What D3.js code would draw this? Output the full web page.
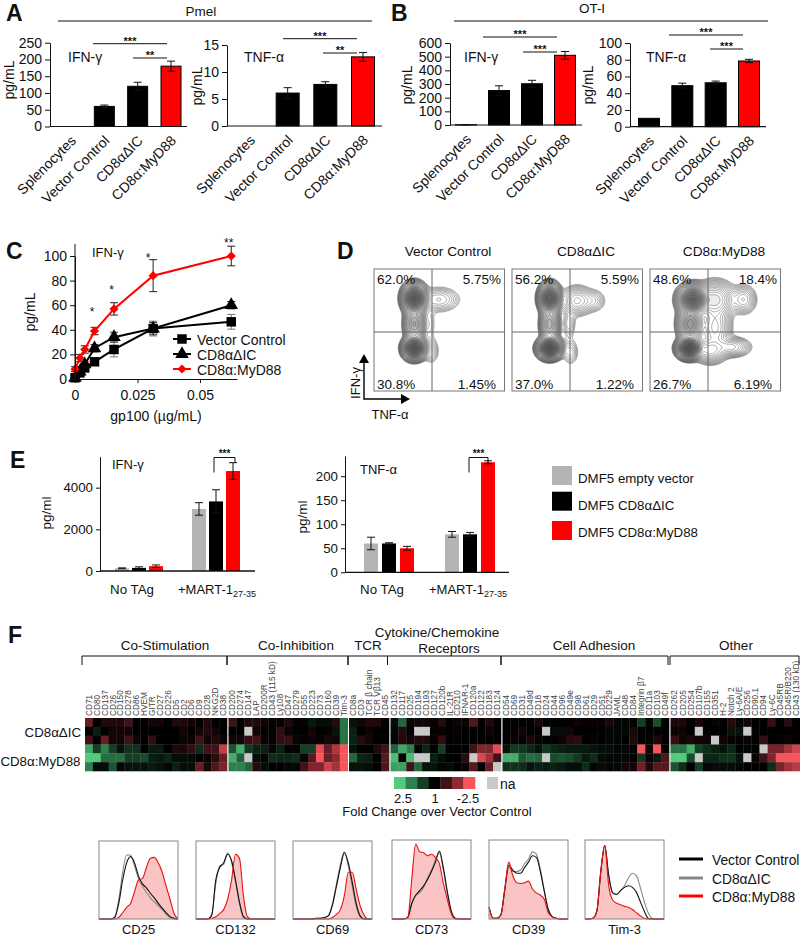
<!DOCTYPE html>
<html>
<head>
<meta charset="utf-8">
<script src="https://cdn.jsdelivr.net/npm/d3@7"></script>
<style>
  html, body { margin: 0; padding: 0; background: #fff; }
  svg { display: block; font-family: "Liberation Sans", Arial, sans-serif; fill: #111; }
</style>
</head>
<body>
<div id="chart"></div>
<script>
// panels A + B
var barCategories = ['Splenocytes', 'Vector Control', 'CD8αΔIC', 'CD8α:MyD88'];
var pmelIfn = [0, 60, 120, 180];
var pmelIfnErr = [0, 4, 12, 15];
var pmelTnf = [0, 6.1, 7.7, 12.8];
var pmelTnfErr = [0, 1, 0.5, 0.8];
var otiIfn = [2, 252, 302, 510];
var otiIfnErr = [1, 35, 25, 28];
var otiTnf = [10, 49, 52.5, 78.5];
var otiTnfErr = [0.3, 3, 2, 2];

// panel C
var doses = [0, 0.00195, 0.0039, 0.0078, 0.0156, 0.03125, 0.0625];
var doseVector = [1, 5, 9, 14, 24, 41, 46.5];
var doseVectorErr = [1, 1, 2, 2, 6, 6, 6];
var doseDelta = [1, 6, 12, 25, 34, 41, 60];
var doseDeltaErr = [1, 1, 2, 3, 4, 5, 3];
var doseMyd = [8, 17, 24, 39, 57, 84, 100];
var doseMydErr = [2, 3, 3, 3, 5, 13, 8];
var doseStars = [[0.0068, 56, '*'], [0.0146, 74, '*'], [0.0292, 100, '*'], [0.0615, 112, '**']];

// panel D, density peaks as [TNF, IFN, spread TNF, spread IFN, weight]
var flowTitles = ['Vector Control', 'CD8αΔIC', 'CD8α:MyD88'];
var flowPercents = [
  ['62.0%', '5.75%', '30.8%', '1.45%'],
  ['56.2%', '5.59%', '37.0%', '1.22%'],
  ['48.6%', '18.4%', '26.7%', '6.19%']
];
var peaksVector = [
  [0.31, 0.76, 0.038, 0.05, 1], [0.31, 0.35, 0.036, 0.038, 1.2], [0.31, 0.55, 0.034, 0.07, 0.22],
  [0.5, 0.75, 0.085, 0.055, 0.02], [0.43, 0.55, 0.03, 0.09, 0.006], [0.44, 0.33, 0.035, 0.06, 0.012]
];
var peaksDelta = [
  [0.29, 0.76, 0.034, 0.05, 0.9], [0.29, 0.35, 0.038, 0.036, 1.3], [0.29, 0.55, 0.032, 0.07, 0.2],
  [0.5, 0.74, 0.06, 0.06, 0.04], [0.63, 0.74, 0.05, 0.05, 0.014], [0.45, 0.32, 0.035, 0.06, 0.012], [0.44, 0.55, 0.03, 0.07, 0.01]
];
var peaksMyd = [
  [0.33, 0.75, 0.048, 0.05, 0.8], [0.3, 0.35, 0.038, 0.035, 1.3], [0.31, 0.55, 0.042, 0.07, 0.3],
  [0.5, 0.75, 0.07, 0.07, 0.1], [0.72, 0.75, 0.05, 0.06, 0.03], [0.63, 0.36, 0.07, 0.04, 0.04],
  [0.5, 0.52, 0.06, 0.1, 0.05], [0.46, 0.33, 0.06, 0.05, 0.06]
];

// panel E
var dmfGroups = ['No TAg', '+MART-1'];
var dmfSeries = ['DMF5 empty vector', 'DMF5 CD8αΔIC', 'DMF5 CD8α:MyD88'];
var dmfIfn = [[130, 150, 230], [2980, 3340, 4800]];
var dmfIfnErr = [[20, 50, 60], [300, 560, 400]];
var dmfTnf = [[60, 60, 50], [79, 79, 229]];
var dmfTnfErr = [[13, 1.5, 4], [6, 4, 3]];

// panel F, fold change level per cell, positive is green, null is na
var heatRows = [0, 1, 2, 3, 4, 5];
var heatRowNames = ['CD8αΔIC', 'CD8α:MyD88'];
var heatLabelsCoStim = ['CD71', 'CD80', 'CD137', 'CD26', 'CD150', 'CD278', 'CD86', 'HVEM', 'GITR', 'CD27', 'CD226', 'CD5', 'CD2', 'CD6', 'CD9', 'CD28', 'NKG2D', 'CD38'];
var heatCoStim = [
  [-1.5, 0, -0.5, -0.5, -0.5, -1, 0, 0, -0.3, -0.3, 0, -0.5, -0.5, -0.3, 0, -0.5, 0, 0],
  [0, 0.5, 0, -0.3, -0.3, -0.3, 0, 0, 0, 0, 0, 0, -0.3, 0, -0.3, -0.5, -0.3, 0],
  [-1, 0, -1.5, -0.3, -0.3, -1, -0.3, 0, -0.8, 0, 0, 0, -0.2, -0.2, -1, -0.3, -0.5, -0.2],
  [2.5, 1, 2, 1, 0.3, 0.8, 0.8, 0, 0.4, 0.4, 0, -0.5, -0.4, -0.8, 0.7, -1, -1, -2.5],
  [3, 3, 1.7, 1.7, 1.7, 1, 1, 1.2, 0.5, 0.4, 0.6, 0.2, 0.2, 0.2, 0, -0.2, -0.7, -1.5],
  [2, 0.2, 0.2, 1.3, 0.1, 0.3, 0.3, 0.3, 0.4, 0.3, 0.1, 0.5, 0.2, 0.2, -1.5, -0.4, -1.2, -1.7]
];
var heatLabelsCoInh = ['CD200', 'CD274', 'CD147', 'LAP', 'CD200R', 'CD43 (115 kD)', 'Ly108', 'CD47', 'CD279', 'CD55', 'CD223', 'CD73', 'CD160', 'CD39', 'Tim-3'];
var heatCoInh = [
  [-1, 0, -0.5, -0.5, -0.3, -0.1, -0.1, -0.5, -0.1, -0.1, 0.4, 0.2, 0.2, -0.6, 1.8],
  [0, 0, null, -0.3, -0.1, -0.1, -0.8, -0.2, 0, 0, -0.3, 0, -0.1, 0.3, 1.8],
  [-0.3, -0.3, -0.8, -1, -0.2, -0.1, -0.8, -0.9, -0.2, -0.1, -0.2, -0.1, -0.4, -0.3, 1.8],
  [1.3, 2.6, 0.9, 0.5, 0.5, 0.1, 0.5, 0, 0, 1, 1, -2.8, -1.5, -2.3, -3],
  [2.6, 1.5, null, 0.2, 0.1, 0.7, 0.6, 0.6, 0.7, 0.1, -1.3, -3, -1.5, -2, -3],
  [2, 2, 1.6, -0.6, 0.2, 0, 0, 0.1, 0.1, -1, -1.8, -1.8, -2.6, -2.2, -3]
];
var heatLabelsTcr = ['CD8a', 'CD3', 'TCR β chain', 'TCR Vβ13', 'CD45'];
var heatTcr = [
  [0.3, -0.3, -0.5, -0.5, 0],
  [0.5, 0, -0.2, 0, 0],
  [0.5, -0.6, -0.3, 0, 0],
  [0.3, 0, 0, -0.5, -1],
  [1.6, 0.6, 0.5, 0, -1.3],
  [0.3, 0.3, 0.2, 0, -1.2]
];
var heatLabelsCyto = ['CD132', 'CD117', 'CD25', 'CD194', 'CD193', 'CD127', 'CD120b', 'IL-21R', 'CD210', 'IFNAR-1', 'CD120a', 'CD122', 'CD183', 'CD124'];
var heatCyto = [
  [0.2, 1.6, 0.1, -0.3, -0.3, -0.1, -0.6, 0, -0.2, -0.2, -1.2, 0, -0.5, 0],
  [0.1, -0.6, 0, null, null, -0.1, -0.1, 0, 0, 0, 0, 0, -0.2, 0],
  [0.1, -0.5, -0.3, -0.5, -0.5, -0.1, -0.8, 0, 0, 0, 0, 0, 0, 0],
  [1.5, 2.5, 2, 0.1, 0.6, 0, 1, 0, 0, 0, -1, -1.8, -1.8, -2.8],
  [2.8, 0, 2.8, null, null, 0.5, 0.2, 0, 0, -0.7, null, -2.7, -2.2, -1],
  [2.4, 2.4, -1, 1.6, 0.3, 0.3, 0.1, 0.2, 0, -0.2, -1.3, 0, -1.5, null]
];
var heatLabelsAdh = ['CD54', 'CD69', 'CD31', 'CD49d', 'CD18', 'CD24', 'CD44', 'CD96', 'CD49e', 'CD98', 'CD61', 'CD29', 'CD51', 'CD229', 'JAML', 'CD48', 'CD84', 'Integrin β7', 'CD11a', 'CD103', 'CD49f'];
var heatAdh = [
  [0, 0, 0, 0, -0.4, 0, 0, 0, 0, -0.2, -0.1, -0.1, -0.1, -0.4, 0.1, 0.1, -0.1, 1, -0.1, 1.2, 0],
  [0, 0, -0.3, 0, 0, null, 0.2, 0.2, -0.3, 0, 0, 0, 0, 0.1, 0.1, 0.1, -0.4, 0, 0, 0, 0],
  [0, -0.2, -0.1, -0.4, -0.2, 0, 0, -0.2, -0.6, -0.7, 0, -0.1, 0, 0.1, 0.1, 0, -0.5, 0, 0, -0.4, 0],
  [0.3, 0.9, 0.9, 0.6, 0.3, 0.9, 0.6, 0.5, 0.4, 0.4, 0.4, 0.3, 0.2, 0.2, 0.1, 0.1, 0, -3, -0.3, -3, 0],
  [2.6, 2.6, 1.4, 1.7, 1.6, null, 1.2, 1.3, 1.2, 0.9, 0.4, 0.7, 0.2, 0.1, 0.1, 0.1, 0, 0.9, -0.2, 0.4, -1.2],
  [0.8, 0.8, 0.7, 0.3, 0.5, 0.4, 0.5, 0.4, 0.2, 0.2, 0.7, 0.1, 0.2, 0.1, 0.1, -0.3, -0.3, -1.6, -0.5, -1.3, -1.3]
];
var heatLabelsOther = ['CD262', 'CD205', 'CD254', 'CD107b', 'CD155', 'CD351', 'H-2', 'Notch 2', 'Ly-6A/E', 'CD256', 'CD90.1', 'CD94', 'Ly-6C', 'CD45RB', 'CD45R/B220', 'CD43 (130 kD)'];
var heatOther = [
  [-0.4, -0.4, 0, -0.4, 0, 0.1, 0, -0.6, 0.1, -0.3, 0, 0, -0.9, 0, -0.7, 0],
  [-0.2, -0.2, 0, null, -0.1, 0, 0, 0.3, 0.3, null, -0.1, 0, 0, 0, 0, 0],
  [-0.8, -0.2, -0.4, -0.3, -0.2, null, -0.3, -0.1, 0, -0.2, 0, -0.8, 0, -0.1, -0.2, 0],
  [1.8, 1.8, 2.6, 1, 0.7, 0.5, 0.3, 0.6, 0, 0.1, 0, null, -1.7, -1.7, -2.2, -2.6],
  [3, 3, 1.2, null, 0.6, 0.6, 0.8, 0.8, 0.3, null, -0.2, -1, -1.8, -3, -3, -3],
  [1.3, 0.7, 0, 1, 0.1, 0.2, 0.2, 0.2, 0.1, 0, 0, 0, 0.7, -1.7, -2.2, -2.4]
];
var heatLegendLevels = [3, 2, 1, 0, -1, -2, -3];
var heatGroupNames = ['Co-Stimulation', 'Co-Inhibition', 'TCR', 'Cytokine/Chemokine', 'Receptors', 'Cell Adhesion', 'Other'];

// histograms, height as a share of the frame at evenly spaced channels
var histNames = ['CD25', 'CD132', 'CD69', 'CD73', 'CD39', 'Tim-3'];
var histVector = [
  [0, 0, 0, 0, 0.02, 0.2, 0.5, 0.72, 0.8, 0.72, 0.55, 0.45, 0.4, 0.33, 0.27, 0.2, 0.14, 0.08, 0.03, 0.01, 0],
  [0, 0, 0, 0, 0.05, 0.5, 0.66, 0.72, 0.83, 0.75, 0.5, 0.22, 0.03, 0, 0, 0, 0, 0, 0, 0, 0],
  [0, 0, 0, 0, 0, 0, 0.01, 0.01, 0.02, 0.04, 0.18, 0.42, 0.66, 0.85, 0.72, 0.47, 0.2, 0.04, 0, 0, 0],
  [0, 0, 0, 0, 0.02, 0.2, 0.3, 0.36, 0.42, 0.5, 0.6, 0.72, 0.86, 0.65, 0.35, 0.1, 0.01, 0, 0, 0, 0],
  [0.15, 0.01, 0.01, 0.05, 0.38, 0.68, 0.62, 0.58, 0.58, 0.65, 0.72, 0.8, 0.78, 0.6, 0.35, 0.12, 0.03, 0.01, 0, 0, 0],
  [0, 0, 0.01, 0.1, 0.6, 0.93, 0.55, 0.33, 0.31, 0.36, 0.4, 0.42, 0.4, 0.34, 0.22, 0.1, 0.01, 0, 0, 0, 0]
];
var histDelta = [
  [0, 0, 0, 0, 0.03, 0.25, 0.6, 0.82, 0.82, 0.68, 0.52, 0.42, 0.34, 0.27, 0.22, 0.17, 0.12, 0.06, 0.02, 0, 0],
  [0, 0, 0, 0, 0.06, 0.45, 0.68, 0.7, 0.85, 0.73, 0.48, 0.2, 0.03, 0, 0, 0, 0, 0, 0, 0, 0],
  [0, 0, 0, 0, 0, 0, 0.01, 0.01, 0.02, 0.05, 0.2, 0.45, 0.7, 0.86, 0.68, 0.42, 0.16, 0.03, 0, 0, 0],
  [0, 0, 0, 0, 0.02, 0.18, 0.3, 0.33, 0.4, 0.52, 0.62, 0.75, 0.84, 0.62, 0.32, 0.1, 0.01, 0, 0, 0, 0],
  [0.15, 0.01, 0.01, 0.05, 0.36, 0.66, 0.6, 0.6, 0.62, 0.7, 0.76, 0.85, 0.82, 0.63, 0.36, 0.12, 0.03, 0.01, 0, 0, 0],
  [0, 0, 0.01, 0.1, 0.6, 0.93, 0.55, 0.33, 0.31, 0.36, 0.42, 0.52, 0.58, 0.55, 0.4, 0.22, 0.08, 0.01, 0, 0, 0]
];
var histMyd = [
  [0, 0, 0, 0, 0, 0.02, 0.08, 0.15, 0.2, 0.35, 0.5, 0.52, 0.66, 0.78, 0.79, 0.72, 0.6, 0.42, 0.25, 0.07, 0],
  [0, 0, 0, 0, 0.01, 0.03, 0.07, 0.12, 0.25, 0.5, 0.83, 0.78, 0.3, 0.03, 0, 0, 0, 0, 0, 0, 0],
  [0, 0, 0, 0, 0, 0, 0, 0, 0, 0, 0.02, 0.06, 0.12, 0.3, 0.6, 0.6, 0.38, 0.17, 0.05, 0, 0],
  [0, 0, 0, 0, 0.02, 0.5, 0.95, 0.85, 0.84, 0.8, 0.82, 0.78, 0.7, 0.45, 0.25, 0.07, 0, 0, 0, 0, 0],
  [0.15, 0.01, 0.01, 0.05, 0.38, 0.72, 0.55, 0.46, 0.45, 0.46, 0.48, 0.38, 0.33, 0.3, 0.25, 0.08, 0.03, 0.01, 0, 0, 0],
  [0, 0, 0.01, 0.1, 0.6, 0.93, 0.42, 0.24, 0.2, 0.18, 0.16, 0.15, 0.12, 0.08, 0.04, 0.01, 0, 0, 0, 0, 0]
];

var RED = '#fe0000';
var svg = d3.select('#chart').append('svg').attr('width', 800).attr('height', 937);

var label = function (x, y, s, size, anchor) {
  return svg.append('text').attr('x', x).attr('y', y).attr('dy', '0.35em')
      .attr('font-size', size || 13).attr('text-anchor', anchor || 'middle').text(s);
};
var vLabel = function (x, y, s, size) {
  return svg.append('text').attr('transform', 'translate(' + x + ',' + y + ') rotate(-90)')
      .attr('dy', '0.35em').attr('font-size', size || 14)
      .attr('text-anchor', 'middle').text(s);
};
var hline = function (x1, x2, y, w) {
  return svg.append('line').attr('x1', x1).attr('x2', x2).attr('y1', y).attr('y2', y)
      .attr('stroke', '#111').attr('stroke-width', w || 1);
};
var whisker = function (g, cx, top, bottom, color) {
  var p = d3.path();
  p.moveTo(cx, top); p.lineTo(cx, bottom);
  p.moveTo(cx - 4, top); p.lineTo(cx + 4, top);
  p.moveTo(cx - 4, bottom); p.lineTo(cx + 4, bottom);
  g.append('path').attr('d', p.toString()).attr('fill', 'none').attr('stroke', color || '#111').attr('stroke-width', 1);
};

// panel letters
[['A', 6, 21], ['B', 391, 21], ['C', 6, 259], ['D', 337, 259], ['E', 10, 468], ['F', 8, 643]].forEach(function (d) {
  svg.append('text').attr('x', d[1]).attr('y', d[2]).attr('font-size', 23).attr('font-weight', 'bold').text(d[0]);
});

label(201, 11, 'Pmel', 13.5);
hline(58, 372, 21, 1.2);
label(592, 8, 'OT-I', 13.5);
hline(454, 768, 21, 1.2);

var barPanel = function (c) {
  var x = d3.scalePoint().domain(barCategories).range(c.centers);
  var y = d3.scaleLinear().domain(c.domain).range(c.yRange);
  var g = svg.append('g');
  var rows = barCategories.map(function (name, i) {
    return { name: name, v: c.values[i], e: c.errs[i], i: i };
  });

  g.selectAll('.bar').data(rows).enter().append('rect').attr('class', 'bar')
      .attr('x', function (d) { return x(d.name) - c.barW / 2; })
      .attr('width', c.barW)
      .attr('y', function (d) { return y(d.v); })
      .attr('height', function (d) { return y(0) - y(d.v); })
      .attr('fill', function (d) { return d.i === 3 ? RED : '#000'; })
      .attr('stroke', '#000').attr('stroke-width', 1);

  rows.filter(function (d) { return d.e >= 0.5; }).forEach(function (d) {
    whisker(g, x(d.name), y(d.v + d.e), y(d.v - d.e));
  });

  var yEl = g.append('g').attr('transform', 'translate(' + c.left + ',0)')
      .call(d3.axisLeft(y).tickValues(c.ticks).tickSize(5).tickSizeOuter(0));
  yEl.selectAll('text').attr('font-size', 14).attr('font-family', 'inherit').attr('fill', '#111');
  yEl.selectAll('line,path').attr('stroke', '#111');

  hline(c.left, c.right, c.yRange[0], 1.2);

  barCategories.forEach(function (name) {
    svg.append('text')
        .attr('transform', 'translate(' + (x(name) + 6) + ',' + (c.yRange[0] + 15) + ') rotate(-45)')
        .attr('text-anchor', 'end').attr('font-size', 14).text(name);
  });

  label(c.titleX, c.titleY, c.title, 14, 'start');
  vLabel(c.labelX, c.labelY, 'pg/mL', 14);

  c.sig.forEach(function (s) {
    hline(s[0], s[1], s[2], 1);
    label((s[0] + s[1]) / 2, s[2] - 3, s[3], 11).attr('font-weight', 'bold');
  });
};

barPanel({ values: pmelIfn, errs: pmelIfnErr, domain: [0, 250], ticks: [0, 50, 100, 150, 200, 250],
  centers: [71, 171], yRange: [126.5, 42.7], left: 50, right: 187, barW: 20,
  title: 'IFN-γ', titleX: 68, titleY: 57, labelX: 9, labelY: 80,
  sig: [[93, 167, 43.7, '***'], [133, 167, 58, '**']] });
barPanel({ values: pmelTnf, errs: pmelTnfErr, domain: [0, 15], ticks: [0, 5, 10, 15],
  centers: [250, 363], yRange: [126, 45], left: 227, right: 382, barW: 23,
  title: 'TNF-α', titleX: 244, titleY: 57, labelX: 197, labelY: 86,
  sig: [[283, 357, 38.7, '***'], [323, 357, 53, '**']] });
barPanel({ values: otiIfn, errs: otiIfnErr, domain: [0, 600], ticks: [0, 100, 200, 300, 400, 500, 600],
  centers: [466, 565], yRange: [125, 43], left: 450, right: 582, barW: 21,
  title: 'IFN-γ', titleX: 464, titleY: 57, labelX: 407, labelY: 85,
  sig: [[483, 557, 37, '***'], [523, 557, 52, '***']] });
barPanel({ values: otiTnf, errs: otiTnfErr, domain: [0, 100], ticks: [0, 20, 40, 60, 80, 100],
  centers: [649, 749], yRange: [126.7, 43], left: 630, right: 766, barW: 21,
  title: 'TNF-α', titleX: 646, titleY: 57, labelX: 588, labelY: 85,
  sig: [[669, 743, 35, '***'], [710, 743, 49, '***']] });

// panel C
(function () {
  var x = d3.scaleLinear().domain([0, 0.0648]).range([75, 237]);
  var y = d3.scaleLinear().domain([0, 100]).range([379, 256]);
  var series = [
    { v: doseVector, e: doseVectorErr, color: '#000', whisker: '#777', sym: d3.symbolSquare, size: 90, rot: 0 },
    { v: doseDelta, e: doseDeltaErr, color: '#000', whisker: '#333', sym: d3.symbolTriangle, size: 80, rot: 0 },
    { v: doseMyd, e: doseMydErr, color: RED, whisker: '#222', sym: d3.symbolSquare, size: 42, rot: 45 }
  ];
  var g = svg.append('g');
  var line = d3.line().x(function (d) { return x(d.x); }).y(function (d) { return y(d.y); });

  series.forEach(function (s) {
    var pts = doses.map(function (dose, i) { return { x: dose, y: s.v[i], e: s.e[i] }; });
    pts.forEach(function (p) {
      whisker(g, x(p.x), y(p.y + p.e), y(p.y - p.e), s.whisker);
    });
    g.append('path').datum(pts).attr('d', line).attr('fill', 'none').attr('stroke', s.color).attr('stroke-width', 2);
    g.selectAll(null).data(pts).enter().append('path')
        .attr('d', d3.symbol().type(s.sym).size(s.size))
        .attr('transform', function (d) { return 'translate(' + x(d.x) + ',' + y(d.y) + ') rotate(' + s.rot + ')'; })
        .attr('fill', s.color);
  });

  var yEl = g.append('g').attr('transform', 'translate(75,0)')
      .call(d3.axisLeft(y).tickValues([0, 20, 40, 60, 80, 100]).tickSize(5).tickSizeOuter(0));
  yEl.selectAll('text').attr('font-size', 14).attr('font-family', 'inherit').attr('fill', '#111');
  yEl.selectAll('line,path').attr('stroke', '#111');
  svg.append('line').attr('x1', 75).attr('x2', 75).attr('y1', 244).attr('y2', 379).attr('stroke', '#111');

  var xEl = g.append('g').attr('transform', 'translate(0,379)')
      .call(d3.axisBottom(x).tickValues([0, 0.025, 0.05]).tickFormat(function (d) { return d === 0 ? '0' : String(d); }).tickSize(4).tickSizeOuter(0));
  xEl.selectAll('text').attr('font-size', 14).attr('font-family', 'inherit').attr('fill', '#111').attr('dy', '1em');
  xEl.selectAll('line,path').attr('stroke', '#111');

  doseStars.forEach(function (d) {
    label(x(d[0]), y(d[1]) + 2, d[2], 12);
  });
  label(92, 252, 'IFN-γ', 13, 'start');
  vLabel(30, 312, 'pg/mL', 14);
  label(156, 416, 'gp100 (µg/mL)', 14);

  var names = ['Vector Control', 'CD8αΔIC', 'CD8α:MyD88'];
  names.forEach(function (name, i) {
    var ly = 339 + i * 15;
    var s = series[i];
    svg.append('line').attr('x1', 173).attr('x2', 191).attr('y1', ly).attr('y2', ly)
        .attr('stroke', s.color).attr('stroke-width', 2);
    svg.append('path').attr('d', d3.symbol().type(s.sym).size(s.size))
        .attr('transform', 'translate(182,' + ly + ') rotate(' + s.rot + ')').attr('fill', s.color);
    label(197, ly + 1, name, 14, 'start');
  });
})();

// panel D
(function () {
  var peaks = [peaksVector, peaksDelta, peaksMyd];
  var lefts = [374, 512, 650];
  var gridW = 130, gridH = 122;
  var levels = d3.range(28).map(function (i) { return 0.0035 * Math.pow(1.24, i); });
  var path = d3.geoPath();

  peaks.forEach(function (list, idx) {
    var left = lefts[idx];
    var values = new Float64Array(gridW * gridH);
    for (var j = 0; j < gridH; j++) {
      for (var i = 0; i < gridW; i++) {
        var u = (i + 0.5) / gridW, v = 1 - (j + 0.5) / gridH, sum = 0;
        list.forEach(function (p) {
          var dx = (u - p[0]) / p[2], dy = (v - p[1]) / p[3];
          sum += p[4] * Math.exp(-0.5 * (dx * dx + dy * dy));
        });
        values[j * gridW + i] = sum;
      }
    }
    var contours = d3.contours().size([gridW, gridH]).thresholds(levels)(values);
    var g = svg.append('g').attr('transform', 'translate(' + left + ',269)');
    // only the inner rings get a shade, the outer ones stay as thin lines
    g.selectAll('path').data(contours).enter().append('path')
        .attr('d', path)
        .attr('fill', '#000')
        .attr('fill-opacity', function (d, i) { return i < 15 ? 0 : 0.08; })
        .attr('stroke', '#444').attr('stroke-width', 0.45);

    svg.append('rect').attr('x', left).attr('y', 269).attr('width', 130.5).attr('height', 122)
        .attr('fill', 'none').attr('stroke', '#777').attr('stroke-width', 1);
    svg.append('line').attr('x1', left + 58).attr('x2', left + 58).attr('y1', 269).attr('y2', 391).attr('stroke', '#666');
    svg.append('line').attr('x1', left).attr('x2', left + 130.5).attr('y1', 332).attr('y2', 332).attr('stroke', '#666');

    label(left + 74, 251, flowTitles[idx], 13.7);
    label(left + 3, 279, flowPercents[idx][0], 13.5, 'start');
    label(left + 127, 279, flowPercents[idx][1], 13.5, 'end');
    label(left + 3, 384, flowPercents[idx][2], 13.5, 'start');
    label(left + 122, 384, flowPercents[idx][3], 13.5, 'end');
  });

  var ax = d3.path();
  ax.moveTo(364, 362); ax.lineTo(364, 399); ax.lineTo(402, 399);
  svg.append('path').attr('d', ax.toString()).attr('fill', 'none').attr('stroke', '#000').attr('stroke-width', 1.4);
  svg.append('path').attr('d', 'M364,354L369,363L359,363Z').attr('fill', '#000');
  svg.append('path').attr('d', 'M410,399L401,394L401,404Z').attr('fill', '#000');
  vLabel(355, 383, 'IFN-γ', 13);
  label(390, 414, 'TNF-α', 13);
})();

// panel E
(function () {
  var colors = ['#b4b4b4', '#000', RED];

  var dmfPanel = function (c) {
    var y = d3.scaleLinear().domain(c.domain).range(c.yRange);
    var g = svg.append('g');
    c.values.forEach(function (grp, gi) {
      var x = d3.scalePoint().domain(dmfSeries).range(c.groups[gi]);
      grp.forEach(function (v, si) {
        var cx = x(dmfSeries[si]);
        var e = c.errs[gi][si];
        g.append('rect').attr('x', cx - 7).attr('width', 14)
            .attr('y', y(v)).attr('height', y(0) - y(v)).attr('fill', colors[si]);
        whisker(g, cx, y(v + e), y(v - e));
      });
    });
    var yEl = g.append('g').attr('transform', 'translate(' + c.left + ',0)')
        .call(d3.axisLeft(y).tickValues(c.ticks).tickFormat(d3.format('d')).tickSize(4).tickSizeOuter(0));
    yEl.selectAll('text').attr('font-size', 13.3).attr('font-family', 'inherit').attr('fill', '#111');
    yEl.selectAll('line,path').attr('stroke', '#111').attr('stroke-width', 1);
    hline(c.left, c.right, c.yRange[0], 1.3);

    label(c.titleX, c.titleY, c.title, 13, 'start');
    vLabel(c.labelX, c.labelY, 'pg/ml', 13.5);
    label(c.noTag, 589, dmfGroups[0], 13.3);
    var t = label(c.mart, 589, dmfGroups[1], 13);
    t.append('tspan').attr('font-size', 9).attr('dy', 3).text('27-35');

    var b = d3.path();
    b.moveTo(c.sig[0], c.sig[3]); b.lineTo(c.sig[0], c.sig[2]); b.lineTo(c.sig[1], c.sig[2]); b.lineTo(c.sig[1], c.sig[2] + 5);
    svg.append('path').attr('d', b.toString()).attr('fill', 'none').attr('stroke', '#111');
    label((c.sig[0] + c.sig[1]) / 2, c.sig[2] - 4, '***', 10).attr('font-weight', 'bold');
  };

  dmfPanel({ values: dmfIfn, errs: dmfIfnErr, domain: [0, 5487], ticks: [0, 2000, 4000],
    yRange: [571, 456.7], left: 100, right: 255, groups: [[122, 156], [199, 233]],
    title: 'IFN-γ', titleX: 112, titleY: 464, labelX: 46, labelY: 513, noTag: 132, mart: 217,
    sig: [214, 235, 457.5, 472.5] });
  dmfPanel({ values: dmfTnf, errs: dmfTnfErr, domain: [0, 242], ticks: [0, 50, 100, 150, 200],
    yRange: [572.3, 456], left: 345, right: 509, groups: [[371, 407], [452, 488]],
    title: 'TNF-α', titleX: 360, titleY: 469, labelX: 302, labelY: 517, noTag: 382, mart: 468,
    sig: [469, 488, 457.5, 472.5] });

  dmfSeries.forEach(function (name, i) {
    var top = [466, 491.7, 521][i];
    svg.append('rect').attr('x', 552).attr('y', top).attr('width', 20).attr('height', 19).attr('fill', colors[i]);
    label(578, [478, 505, 532][i], name, 13.3, 'start');
  });
})();

// panel F
(function () {
  var color = d3.scaleLinear()
      .domain([-3, -2, -1, 0, 1, 2, 3])
      .range(['#f4565c', '#8f2a33', '#3e1216', '#000', '#143f24', '#2d8050', '#55c97e']);
  var blocks = [
    { labels: heatLabelsCoStim, cells: heatCoStim, x: [85, 227] },
    { labels: heatLabelsCoInh, cells: heatCoInh, x: [228.5, 347.7] },
    { labels: heatLabelsTcr, cells: heatTcr, x: [349, 389] },
    { labels: heatLabelsCyto, cells: heatCyto, x: [390.5, 501] },
    { labels: heatLabelsAdh, cells: heatAdh, x: [502.5, 669] },
    { labels: heatLabelsOther, cells: heatOther, x: [670.5, 800] }
  ];
  var y = d3.scaleBand().domain(heatRows).range([718, 771]);

  blocks.forEach(function (b) {
    var x = d3.scaleBand().domain(b.labels).range(b.x);
    var g = svg.append('g');
    b.cells.forEach(function (row, r) {
      g.selectAll(null).data(row).enter().append('rect')
          .attr('x', function (d, i) { return x(b.labels[i]); })
          .attr('y', y(r))
          .attr('width', x.bandwidth() + 0.3)
          .attr('height', y.bandwidth() + 0.3)
          .attr('fill', function (d) { return d === null ? '#c9c9c9' : color(d); });
    });
    g.selectAll(null).data(b.labels).enter().append('text')
        .attr('transform', function (d) { return 'translate(' + (x(d) + x.bandwidth() / 2) + ',716) rotate(-90)'; })
        .attr('dy', '0.35em').attr('font-size', 8.3).attr('fill', '#444').text(function (d) { return d; });
  });

  label(81, 732, heatRowNames[0], 13.3, 'end');
  label(80.5, 761, heatRowNames[1], 13.3, 'end');

  // group brackets
  var br = d3.path();
  [[82, 227], [227, 348], [348, 387.5], [387.5, 501], [501, 668], [670, 799]].forEach(function (d) {
    br.moveTo(d[0], 665); br.lineTo(d[0], 656); br.lineTo(d[1], 656); br.lineTo(d[1], 665);
  });
  svg.append('path').attr('d', br.toString()).attr('fill', 'none').attr('stroke', '#111').attr('stroke-width', 1);

  label(165, 645, heatGroupNames[0], 13.5);
  label(296, 645, heatGroupNames[1], 13.5);
  label(368, 645, heatGroupNames[2], 13.5);
  label(437, 632, heatGroupNames[3], 13.5);
  label(449, 648, heatGroupNames[4], 13.5);
  label(594, 645, heatGroupNames[5], 13.5);
  label(736, 645, heatGroupNames[6], 13.5);

  // colour key
  var kx = d3.scaleBand().domain(heatLegendLevels).range([394, 475]);
  svg.selectAll(null).data(heatLegendLevels).enter().append('rect')
      .attr('x', function (d) { return kx(d); }).attr('y', 777)
      .attr('width', kx.bandwidth() + 0.3).attr('height', 12)
      .attr('fill', function (d) { return color(d); });
  svg.append('rect').attr('x', 487).attr('y', 777).attr('width', 11).attr('height', 12).attr('fill', '#c9c9c9');
  label(500, 784, 'na', 14, 'start');
  label(403, 798, '2.5', 13);
  label(435, 798, '1', 13);
  label(468, 798, '-2.5', 13);
  label(437, 811, 'Fold Change over Vector Control', 13);

  // histogram row
  var frames = [[99, 841], [196, 841], [293, 841], [392, 840], [489, 840], [585, 840]];
  frames.forEach(function (f, k) {
    var x = d3.scaleLinear().domain([0, 20]).range([f[0], f[0] + 79]);
    var yh = d3.scaleLinear().domain([0, 1]).range([919, f[1]]);
    var line = d3.line().x(function (d, i) { return x(i); }).y(function (d) { return yh(d); }).curve(d3.curveMonotoneX);
    var area = d3.area().x(function (d, i) { return x(i); }).y0(yh(0)).y1(function (d) { return yh(d); }).curve(d3.curveMonotoneX);

    svg.append('path').datum(histMyd[k]).attr('d', area).attr('fill', '#fbc4c4');
    svg.append('path').datum(histDelta[k]).attr('d', line).attr('fill', 'none').attr('stroke', '#888').attr('stroke-width', 1.1);
    svg.append('path').datum(histVector[k]).attr('d', line).attr('fill', 'none').attr('stroke', '#111').attr('stroke-width', 1.1);
    svg.append('path').datum(histMyd[k]).attr('d', line).attr('fill', 'none').attr('stroke', '#e81010').attr('stroke-width', 1.1);
    svg.append('rect').attr('x', f[0]).attr('y', f[1]).attr('width', 79).attr('height', 919 - f[1])
        .attr('fill', 'none').attr('stroke', '#888');
    label(f[0] + 39.5, 929.5, histNames[k], 13);
  });

  [['Vector Control', '#000'], ['CD8αΔIC', '#888'], ['CD8α:MyD88', RED]].forEach(function (d, i) {
    var ly = [859, 878, 896][i];
    svg.append('line').attr('x1', 679).attr('x2', 703).attr('y1', ly).attr('y2', ly)
        .attr('stroke', d[1]).attr('stroke-width', 3);
    label(712, ly + 1, d[0], 13.8, 'start');
  });
})();
</script>
</body>
</html>
